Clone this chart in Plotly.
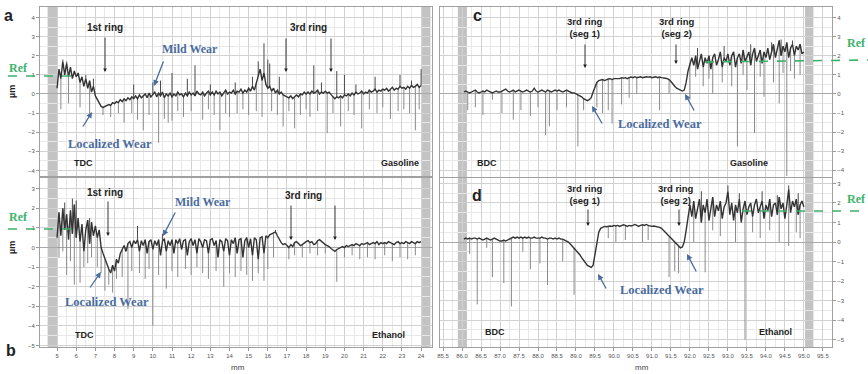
import plotly.graph_objects as go

W, H = 868, 374

# ---------------- data ----------------
# Panel a (TDC, Gasoline): profile sampled every 0.1 mm from 5.0 to 24.0 mm
A_X0, A_STEP = 5.0, 0.1
A_Y = [0.3,
       1.3, 0.8, 1.7, 1.0, 1.6, 0.9, 1.4, 0.8, 1.2, 0.9,
       1.1, 0.6, 0.9, 0.4, 0.8, 0.3, 0.7, 0.1, 0.4, -0.1,
       -0.3, -0.5, -0.65, -0.7, -0.65, -0.6, -0.55, -0.6, -0.45, -0.5,
       -0.4, -0.45, -0.3, -0.4, -0.25, -0.35, -0.2, -0.3, -0.15, -0.25,
       -0.1, -0.25, -0.05, -0.2, -0.1, 0.0, -0.2, 0.05, -0.15, -0.05,
       0.1, -0.15, 0.05, -0.1, 0.1, -0.2, 0.0, -0.1, 0.05, -0.15,
       0.0, -0.1, 0.1, -0.05, 0.0, -0.15, 0.05, -0.1, 0.1, -0.05,
       0.05, -0.1, 0.15, 0.0, -0.05, 0.1, -0.1, 0.05, 0.15, -0.05,
       0.1, -0.05, 0.15, 0.0, 0.1, -0.1, 0.05, 0.2, 0.0, 0.1,
       0.05, 0.2, 0.0, 0.15, 0.1, 0.25, 0.05, 0.2, 0.1, 0.3,
       0.15, 0.4, 0.2, 0.6, 0.9, 1.3, 0.7, 1.1, 0.5, 0.3,
       0.4, 0.15, 0.3, 0.05, 0.2, 0.0, 0.1, -0.05, -0.1, -0.15,
       -0.2, -0.1, -0.25, -0.15, -0.05, -0.15, 0.0, -0.05, 0.1, 0.0,
       0.1, 0.0, 0.15, 0.05, 0.1, 0.2, 0.0, 0.1, 0.05, 0.15,
       0.05, 0.1, -0.05, -0.15, -0.25, -0.15, -0.2, -0.1, -0.2, -0.05,
       -0.1, 0.0, -0.1, 0.05, -0.05, 0.1, 0.0, 0.05, 0.15, 0.0,
       0.1, 0.05, 0.2, 0.1, 0.15, 0.25, 0.1, 0.2, 0.15, 0.25,
       0.2, 0.3, 0.15, 0.25, 0.35, 0.2, 0.3, 0.25, 0.4, 0.3,
       0.35, 0.25, 0.4, 0.3, 0.45, 0.35, 0.4, 0.5, 0.35, 0.45]
A_DOWN_X = [5.2, 5.6, 6.2, 6.7, 7.4, 7.8, 8.2, 8.5, 8.9, 9.2, 9.5, 9.8, 10.3, 10.6, 10.8, 11.0,
            11.3, 11.6, 12.0, 12.6, 12.9, 13.2, 13.5, 13.8, 14.0, 14.4, 14.7, 15.0, 15.4, 15.7,
            16.2, 16.5, 16.8, 17.1, 17.4, 17.7, 18.0, 18.2, 18.6, 19.1, 19.4, 19.8, 20.2, 20.5,
            20.9, 21.3, 21.7, 22.0, 22.4, 22.8, 23.1, 23.4, 23.7, 23.9]
A_DOWN_Y = [-0.8, -0.5, -0.7, -1.0, -1.1, -1.2, -1.0, -1.5, -1.0, -1.35, -1.9, -1.1, -2.55, -1.3, -1.5, -1.4,
            -0.9, -1.2, -0.9, -1.35, -0.8, -1.1, -1.9, -1.0, -1.2, -1.0, -0.8, -1.1, -0.9, -1.2,
            -0.9, -1.1, -1.7, -0.9, -1.8, -1.1, -0.8, -1.2, -0.9, -2.05, -1.0, -1.7, -0.9, -1.1,
            -1.8, -0.8, -1.0, -0.7, -1.3, -0.9, -0.8, -1.0, -1.9, -0.8]
A_UP_X = [5.3, 5.5, 6.5, 6.9, 9.0, 10.0, 10.4, 11.0, 11.8, 12.2, 13.0, 14.3, 15.2, 15.5, 15.8,
          16.0, 16.1, 16.6, 18.4, 18.8, 19.6, 20.0, 20.6, 21.6, 22.9, 23.5, 24.0]
A_UP_Y = [1.8, 1.7, 1.0, 0.8, 0.5, 0.6, 0.7, 1.1, 0.8, 1.5, 0.5, 0.6, 0.9, 1.7, 2.65,
          1.8, 1.6, 0.9, 1.5, 0.6, 1.2, 1.0, 0.5, 0.9, 1.0, 0.7, 1.3]

# Panel b (TDC, Ethanol)
B_X0, B_STEP = 5.0, 0.1
B_Y = [0.5,
       1.8, 0.6, 2.0, 0.9, 1.7, 0.4, 1.9, 0.7, 2.2, 0.5,
       1.5, 0.3, 1.2, -0.2, 0.9, 1.4, 0.2, 1.3, 0.6, 1.1,
       0.5, 0.9, 0.0, -0.3, -0.6, -0.9, -1.1, -1.3, -0.9, -1.2,
       -0.6, -0.8, -0.3, -0.1, 0.1, -0.2, 0.2, 0.3, 0.0, 0.35,
       0.2, 0.4, -0.2, 0.35, 0.1, 0.4, -0.3, 0.3, 0.4, -0.1,
       0.35, 0.1, 0.4, -0.4, 0.3, 0.45, -0.2, 0.35, 0.1, 0.4,
       -0.3, 0.4, 0.2, 0.45, -0.1, 0.35, 0.4, -0.4, 0.3, 0.45,
       0.1, 0.4, -0.3, 0.45, 0.3, 0.0, 0.4, 0.35, -0.3, 0.4,
       0.45, 0.1, 0.35, -0.5, 0.4, 0.3, -0.2, 0.45, 0.35, -0.4,
       0.4, 0.2, 0.5, -0.3, 0.4, 0.45, -0.5, 0.35, 0.5, 0.0,
       0.45, -0.4, 0.5, 0.4, -0.6, 0.5, 0.55, -0.3, 0.6, 0.5,
       0.65, 0.7, 0.75, 0.8, 0.6, 0.4, 0.25, 0.15, 0.2, 0.1,
       0.0, 0.15, 0.05, 0.25, 0.3, 0.2, 0.1, 0.15, 0.25, 0.3,
       0.35, 0.25, 0.3, 0.15, 0.2, 0.35, 0.4, 0.3, 0.25, 0.15,
       0.1, 0.05, -0.05, -0.15, -0.2, -0.1, -0.05, 0.0, 0.05, 0.0,
       0.1, 0.05, 0.1, 0.15, 0.1, 0.2, 0.15, 0.1, 0.2, 0.15,
       0.2, 0.25, 0.15, 0.2, 0.25, 0.2, 0.3, 0.15, 0.25, 0.2,
       0.25, 0.2, 0.3, 0.25, 0.2, 0.15, 0.25, 0.3, 0.2, 0.25,
       0.2, 0.3, 0.25, 0.2, 0.3, 0.25, 0.2, 0.3, 0.25, 0.3]
B_DOWN_X = [5.1, 5.3, 5.5, 5.7, 5.9, 6.2, 6.4, 6.6, 6.8, 7.1, 7.3, 7.5, 7.7, 7.9, 8.1, 8.4, 8.7, 8.9,
            9.3, 9.6, 9.8, 10.0, 10.3, 10.7, 11.0, 11.3, 11.7, 12.0, 12.3, 12.6, 12.9, 13.3, 13.7,
            14.0, 14.3, 14.6, 14.9, 15.2, 15.5, 15.8, 16.0, 16.3, 17.1, 17.4, 17.8, 18.2, 18.6,
            19.0, 19.6, 20.0, 20.4, 20.8, 21.2, 21.6, 22.1, 22.5, 22.9, 23.3, 23.7]
B_DOWN_Y = [-0.5, -0.2, -1.4, -0.7, -1.9, -1.8, -1.0, -0.8, -0.5, -1.0, -1.3, -2.2, -1.9, -2.3, -1.6, -1.5, -3.15, -1.2,
            -1.3, -1.6, -1.1, -4.0, -1.4, -2.1, -1.2, -1.5, -1.1, -1.4, -1.0, -1.3, -1.6, -1.2, -2.0,
            -1.3, -1.5, -1.2, -1.4, -1.7, -1.3, -1.7, -1.1, -0.5, -0.6, -0.4, -0.5, -0.3, -0.4,
            -0.3, -1.75, -0.5, -0.4, -0.6, -0.5, -0.6, -0.4, -0.7, -0.5, -0.6, -0.4]
B_UP_X = [5.4, 5.8, 6.0, 6.7, 9.2, 10.5, 16.4]
B_UP_Y = [2.3, 2.5, 2.4, 1.5, 1.1, 0.7, 0.9]

# Panel c (BDC, Gasoline): profile sampled every 0.05 mm from 86.05 to 95.00 mm
C_X0, C_STEP = 86.05, 0.05
C_Y = [0.1, 0.15, 0.1, 0.05, 0.1, 0.15, 0.2, 0.1, 0.05, 0.1, 0.15, 0.1, 0.2, 0.15, 0.1, 0.05, 0.1, 0.15, 0.1, 0.1,
       0.15, 0.2, 0.25, 0.15, 0.1, 0.15, 0.2, 0.1, 0.15, 0.2, 0.15, 0.1, 0.15, 0.2, 0.15, 0.1, 0.15, 0.3, 0.15, 0.1,
       0.15, 0.2, 0.15, 0.1, 0.2, 0.15, 0.1, 0.15, 0.2, 0.15, 0.2, 0.15, 0.1, 0.15, 0.2, 0.15, 0.1, 0.05, 0.05, 0.0,
       -0.05, -0.1, -0.15, -0.25, -0.3, -0.35, -0.3, -0.2, 0.1, 0.4, 0.6, 0.7, 0.72, 0.75, 0.7, 0.75, 0.78, 0.8, 0.75, 0.8,
       0.8, 0.82, 0.8, 0.85, 0.82, 0.85, 0.8, 0.85, 0.88, 0.85, 0.9, 0.85, 0.88, 0.9, 0.85, 0.88, 0.9, 0.88, 0.9, 0.85,
       0.88, 0.9, 0.85, 0.88, 0.85, 0.85, 0.82, 0.8, 0.75, 0.65, 0.5, 0.4, 0.3, 0.25, 0.2, 0.15, 0.2, 0.6, 1.2, 1.6,
       1.9, 1.5, 2.0, 1.3, 1.8, 2.1, 1.4, 1.9, 1.6, 2.0, 1.3, 1.9, 2.1, 1.5, 1.8, 2.2, 1.4, 1.9, 1.7, 2.1,
       1.5, 2.0, 2.2, 1.4, 1.9, 2.1, 1.6, 2.3, 1.7, 2.0, 2.2, 1.5, 2.1, 2.4, 1.7, 2.0, 2.3, 1.6, 2.2, 1.9,
       2.4, 1.8, 2.2, 2.6, 1.9, 2.3, 2.8, 2.0, 2.5, 2.2, 2.7, 1.9, 2.4, 2.6, 2.0, 2.5, 2.3, 2.6, 2.1, 2.2]
C_DOWN_X = [86.15, 86.35, 86.55, 86.8, 87.05, 87.35, 87.55, 87.8, 88.0, 88.2, 88.3, 88.5, 88.75, 89.05, 89.2,
            89.55, 89.7, 89.85, 89.95, 90.2, 90.4, 90.6, 91.2, 91.45, 92.0, 92.15, 92.35, 92.5, 92.6, 92.85,
            93.1, 93.25, 93.4, 93.5, 93.7, 93.85, 93.95, 94.2, 94.35, 94.45, 94.55, 94.65, 94.75, 94.9]
C_DOWN_Y = [-0.85, -0.7, -1.1, -0.3, -1.0, -1.35, -0.85, -1.15, -0.7, -2.15, -1.7, -0.85, -0.7, -2.75, -0.85,
            -0.7, -1.0, -0.85, -1.55, -0.55, -0.2, 0.0, -0.85, 0.0, -0.3, 0.9, 0.4, 0.8, 0.05, 0.6,
            0.4, -2.75, 1.0, 0.2, -2.05, 0.9, -0.15, 0.6, -0.5, 1.1, -4.3, 1.2, 0.8, 1.0]
C_UP_X = [92.2, 92.9, 93.6, 94.15, 94.4, 94.7]
C_UP_Y = [2.4, 2.5, 2.6, 2.7, 2.85, 2.8]

# Panel d (BDC, Ethanol)
D_X0, D_STEP = 86.05, 0.05
D_Y = [0.15, 0.2, 0.15, 0.2, 0.15, 0.2, 0.2, 0.15, 0.2, 0.15, 0.1, 0.15, 0.2, 0.15, 0.1, 0.15, 0.2, 0.15, 0.1, 0.05,
       0.05, 0.1, 0.05, 0.1, 0.15, 0.2, 0.25, 0.2, 0.25, 0.2, 0.25, 0.2, 0.25, 0.2, 0.25, 0.2, 0.2, 0.25, 0.2, 0.2,
       0.2, 0.25, 0.2, 0.2, 0.15, 0.2, 0.2, 0.15, 0.2, 0.15, 0.2, 0.15, 0.15, 0.1, 0.05, 0.0, -0.1, -0.2, -0.3, -0.4,
       -0.5, -0.65, -0.8, -0.95, -1.1, -1.2, -1.25, -1.3, -1.2, -0.6, 0.1, 0.5, 0.7, 0.75, 0.8, 0.78, 0.8, 0.82, 0.8, 0.85,
       0.82, 0.85, 0.8, 0.85, 0.88, 0.85, 0.8, 0.85, 0.82, 0.85, 0.9, 0.85, 0.8, 0.85, 0.88, 0.85, 0.9, 0.85, 0.82, 0.8,
       0.82, 0.8, 0.78, 0.75, 0.7, 0.6, 0.5, 0.35, 0.25, 0.15, 0.05, 0.0, -0.1, -0.2, -0.3, -0.25, 0.0, 0.6, 1.4, 1.9,
       1.3, 2.1, 1.2, 1.8, 2.2, 1.0, 1.9, 1.5, 2.2, 1.1, 1.8, 2.3, 1.3, 1.9, 1.6, 2.1, 1.2, 1.8, 2.0, 2.6,
       1.4, 2.0, 1.1, 1.9, 1.5, 2.2, 1.0, 1.7, 2.1, 1.4, 1.8, 2.0, 1.3, 1.9, 2.2, 1.5, 1.8, 2.1, 1.2, 1.9,
       1.6, 2.2, 1.3, 1.9, 2.0, 1.4, 2.3, 1.7, 2.0, 1.2, 1.9, 2.7, 1.5, 2.1, 1.8, 2.2, 1.4, 1.9, 2.1, 1.8]
D_DOWN_X = [86.2, 86.4, 86.65, 86.8, 87.1, 87.3, 87.6, 87.8, 88.05, 88.25, 88.65, 88.95, 89.85, 90.05, 90.3,
            90.75, 90.9, 91.45, 91.6, 91.7, 92.1, 92.4, 92.6, 92.8, 93.2, 93.45, 93.65, 93.85, 94.1, 94.35,
            94.6, 94.8, 94.9]
D_DOWN_Y = [-0.6, -3.2, -0.3, -1.8, -2.1, -3.3, -0.5, -1.4, -1.1, -2.2, -1.0, -2.7, 0.2, 0.0, 0.1,
            0.0, 0.1, -1.8, -1.5, -1.6, 0.0, -1.55, 0.6, 0.3, 0.0, -5.0, 0.5, 0.2, 0.6, 0.0,
            -0.2, 0.5, 0.2]
D_UP_X = [92.3, 93.0, 93.3, 93.9, 94.3, 94.6, 94.85]
D_UP_Y = [2.6, 2.9, 2.5, 2.6, 2.4, 2.9, 2.5]

LEFT_XTICKS = list(range(5, 25))
RIGHT_XTICKS = [85.5 + 0.5 * i for i in range(21)]

# ---------------- helpers ----------------
def grid(x0, step, n):
    return [round(x0 + i * step, 4) for i in range(n)]


def spikes(x0, step, base, sx, sy):
    xs, ys = [], []
    for x, y in zip(sx, sy):
        i = int(round((x - x0) / step))
        i = max(0, min(len(base) - 1, i))
        xs += [x, x, None]
        ys += [base[i], y, None]
    return xs, ys


def P(x, y):
    return x / W, 1 - y / H


fig = go.Figure()

panels = [
    ("x", "y", A_X0, A_STEP, A_Y, A_DOWN_X, A_DOWN_Y, A_UP_X, A_UP_Y),
    ("x2", "y2", B_X0, B_STEP, B_Y, B_DOWN_X, B_DOWN_Y, B_UP_X, B_UP_Y),
    ("x3", "y3", C_X0, C_STEP, C_Y, C_DOWN_X, C_DOWN_Y, C_UP_X, C_UP_Y),
    ("x4", "y4", D_X0, D_STEP, D_Y, D_DOWN_X, D_DOWN_Y, D_UP_X, D_UP_Y),
]
for xa, ya, x0, st, base, dx, dy, ux, uy in panels:
    gx = grid(x0, st, len(base))
    sxs, sys_ = spikes(x0, st, base, dx, dy)
    fig.add_trace(go.Scatter(x=sxs, y=sys_, mode="lines", xaxis=xa, yaxis=ya,
                             line=dict(color="#8a8a8a", width=1.0), hoverinfo="skip", showlegend=False))
    uxs, uys = spikes(x0, st, base, ux, uy)
    fig.add_trace(go.Scatter(x=uxs, y=uys, mode="lines", xaxis=xa, yaxis=ya,
                             line=dict(color="#4a4a4a", width=1.0), hoverinfo="skip", showlegend=False))
    fig.add_trace(go.Scatter(x=gx, y=base, mode="lines", xaxis=xa, yaxis=ya,
                             line=dict(color="#333333", width=1.4), hoverinfo="skip", showlegend=False))

# ---------------- axes ----------------
tickfont = dict(size=6, color="#555555", family="Arial, Liberation Sans")
base_ax = dict(showline=True, linecolor="#a0a0a0", linewidth=1, mirror=True, automargin=False,
               showgrid=True, gridcolor="#d2d2d2", gridwidth=1,
               ticks="outside", ticklen=3, tickcolor="#999999", tickfont=tickfont)

LX = [40 / W, 432 / W]
RX = [440 / W, 832 / W]
TOP_A = [1 - 176 / H, 1 - 7 / H]
BOT_B = [1 - 347 / H, 1 - 178 / H]
TOP_C = [1 - 177 / H, 1 - 7 / H]

fig.update_layout(
    xaxis=dict(base_ax, domain=LX, range=[4.11, 24.57], dtick=1, tick0=0, showticklabels=False, ticks="",
               anchor="y", zeroline=False, minor=dict(dtick=0.5, showgrid=True, gridcolor="#e8e8e8")),
    yaxis=dict(base_ax, domain=TOP_A, range=[-4.29, 4.55], dtick=1, tick0=0, anchor="x",
               zeroline=True, zerolinecolor="#a8a8a8", zerolinewidth=1,
               minor=dict(dtick=0.5, showgrid=True, gridcolor="#e8e8e8")),
    xaxis2=dict(base_ax, domain=LX, range=[4.11, 24.57], tickvals=LEFT_XTICKS, anchor="y2",
                zeroline=False, minor=dict(dtick=0.5, showgrid=True, gridcolor="#e8e8e8")),
    yaxis2=dict(base_ax, domain=BOT_B, range=[-5.08, 3.55], dtick=1, tick0=0, anchor="x2",
                zeroline=True, zerolinecolor="#a8a8a8", zerolinewidth=1,
                minor=dict(dtick=0.5, showgrid=True, gridcolor="#e8e8e8")),
    xaxis3=dict(base_ax, domain=RX, range=[85.42, 95.74], dtick=0.5, tick0=0, showticklabels=False, ticks="",
                anchor="y3", zeroline=False, minor=dict(dtick=0.25, showgrid=True, gridcolor="#e8e8e8")),
    yaxis3=dict(base_ax, domain=TOP_C, range=[-4.35, 4.55], dtick=1, tick0=0, anchor="x3", side="right",
                zeroline=True, zerolinecolor="#a8a8a8", zerolinewidth=1,
                minor=dict(dtick=0.5, showgrid=True, gridcolor="#e8e8e8")),
    xaxis4=dict(base_ax, domain=RX, range=[85.42, 95.74], tickvals=RIGHT_XTICKS, tickformat=".1f",
                anchor="y4", zeroline=False, minor=dict(dtick=0.25, showgrid=True, gridcolor="#e8e8e8")),
    yaxis4=dict(base_ax, domain=BOT_B, range=[-5.38, 3.28], dtick=1, tick0=0, anchor="x4", side="right",
                zeroline=True, zerolinecolor="#a8a8a8", zerolinewidth=1,
                minor=dict(dtick=0.5, showgrid=True, gridcolor="#e8e8e8")),
)

# ---------------- shapes ----------------
shapes = []
for xr, yr in [("x", "y domain"), ("x2", "y2 domain")]:
    for a, b in [(4.48, 5.0), (24.05, 24.47)]:
        shapes.append(dict(type="rect", xref=xr, yref=yr, x0=a, x1=b, y0=0, y1=1,
                           fillcolor="#b9b9b9", opacity=0.85, line=dict(width=0), layer="below"))
for xr, yr in [("x3", "y3 domain"), ("x4", "y4 domain")]:
    for a, b in [(85.89, 86.13), (95.03, 95.24)]:
        shapes.append(dict(type="rect", xref=xr, yref=yr, x0=a, x1=b, y0=0, y1=1,
                           fillcolor="#b9b9b9", opacity=0.85, line=dict(width=0), layer="below"))

GREEN = "#3cb36a"
for (x1p, y1p, x2p, y2p) in [(8, 76, 77, 76), (8, 229, 77, 229), (705, 62, 868, 60), (742, 211, 868, 211)]:
    a = P(x1p, y1p)
    b = P(x2p, y2p)
    shapes.append(dict(type="line", xref="paper", yref="paper", x0=a[0], y0=a[1], x1=b[0], y1=b[1],
                       line=dict(color=GREEN, width=1.6, dash="dash")))
fig.update_layout(shapes=shapes)

# ---------------- annotations ----------------
ann = []
SANS = "Arial, Liberation Sans"
SERIF = "Liberation Serif, Times New Roman, serif"
BLUE = "#4a6c9e"


def text(px_, py_, s, size, color="#222222", family=SANS, bold=True, angle=0):
    x, y = P(px_, py_)
    ann.append(dict(x=x, y=y, xref="paper", yref="paper", text=("<b>%s</b>" % s) if bold else s,
                    showarrow=False, xanchor="center", yanchor="middle", textangle=angle,
                    font=dict(size=size, color=color, family=family)))


def arrow(hx, hy, tx, ty, color, width, size, head=2):
    x, y = P(hx, hy)
    ann.append(dict(x=x, y=y, xref="paper", yref="paper", text="", showarrow=True,
                    ax=tx - hx, ay=ty - hy, axref="pixel", ayref="pixel",
                    arrowcolor=color, arrowwidth=width, arrowsize=size, arrowhead=head))


# panel letters
text(8, 16, "a", 16)
text(11, 350, "b", 16)
text(477, 16, "c", 16)
text(477, 195, "d", 16)

# y titles
text(12, 92, "µm", 9, angle=-90)
text(12, 248, "µm", 9, angle=-90)
# x titles
text(238, 367, "mm", 8, color="#444444", bold=False)
text(642, 367, "mm", 8, color="#444444", bold=False)

# panel a
text(105, 28, "1st ring", 10)
text(308, 28, "3rd ring", 10)
text(190, 49, "Mild Wear", 12, color=BLUE, family=SERIF)
text(110, 144, "Localized Wear", 12.5, color=BLUE, family=SERIF)
text(18, 68, "Ref", 12, color=GREEN, family=SERIF)
text(83, 163, "TDC", 9)
text(400, 163, "Gasoline", 9)
arrow(105, 72, 105, 36, "#222222", 0.9, 0.8)
arrow(286, 72, 286, 37, "#222222", 0.9, 0.8)
arrow(331, 72, 331, 37, "#222222", 0.9, 0.8)
arrow(154, 86, 164, 60, BLUE, 1.3, 0.9)
arrow(92, 112, 82, 128, BLUE, 1.3, 0.9)

# panel b
text(105, 193, "1st ring", 10)
text(303, 195, "3rd ring", 10)
text(203, 202, "Mild Wear", 12, color=BLUE, family=SERIF)
text(107, 302, "Localized Wear", 12.5, color=BLUE, family=SERIF)
text(18, 217, "Ref", 12, color=GREEN, family=SERIF)
text(84, 335, "TDC", 9)
text(388, 335, "Ethanol", 9)
arrow(108, 236, 108, 200, "#222222", 0.9, 0.8)
arrow(291, 240, 291, 204, "#222222", 0.9, 0.8)
arrow(335, 240, 335, 204, "#222222", 0.9, 0.8)
arrow(163, 236, 176, 211, BLUE, 1.3, 0.9)
arrow(101, 272, 89, 289, BLUE, 1.3, 0.9)

# panel c
text(585, 28, "3rd ring<br>(seg 1)", 9.5)
text(677, 28, "3rd ring<br>(seg 2)", 9.5)
text(660, 124, "Localized Wear", 12.5, color=BLUE, family=SERIF)
text(856, 43, "Ref", 12, color=GREEN, family=SERIF)
text(487, 163, "BDC", 9)
text(749, 163, "Gasoline", 9)
arrow(585, 68, 585, 43, "#222222", 0.9, 0.8)
arrow(676, 64, 676, 43, "#222222", 0.9, 0.8)
arrow(592, 106, 603, 125, BLUE, 1.3, 0.9)
arrow(685, 94, 695, 112, BLUE, 1.3, 0.9)

# panel d
text(585, 194, "3rd ring<br>(seg 1)", 9.5)
text(676, 194, "3rd ring<br>(seg 2)", 9.5)
text(662, 290, "Localized Wear", 12.5, color=BLUE, family=SERIF)
text(856, 199, "Ref", 12, color=GREEN, family=SERIF)
text(495, 332, "BDC", 9)
text(775, 332, "Ethanol", 9)
arrow(588, 226, 588, 208, "#222222", 0.9, 0.8)
arrow(679, 226, 679, 208, "#222222", 0.9, 0.8)
arrow(598, 274, 607, 290, BLUE, 1.3, 0.9)
arrow(687, 254, 697, 273, BLUE, 1.3, 0.9)

fig.update_layout(annotations=ann, width=W, height=H,
                  margin=dict(l=0, r=0, t=0, b=0),
                  paper_bgcolor="white", plot_bgcolor="white", showlegend=False)

fig.write_html("out.html", config={"displayModeBar": False},
               post_script="document.body.style.margin='0';document.body.style.padding='0';"
                           "document.body.style.overflow='hidden';")
